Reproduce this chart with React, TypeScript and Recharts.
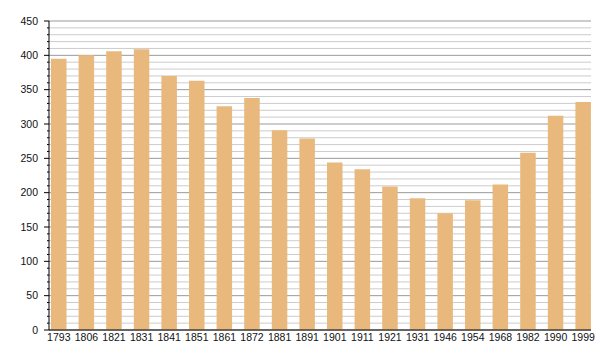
import { BarChart, Bar, XAxis, YAxis, CartesianGrid } from "recharts";

const years = [
  "1793", "1806", "1821", "1831", "1841", "1851", "1861", "1872", "1881", "1891",
  "1901", "1911", "1921", "1931", "1946", "1954", "1968", "1982", "1990", "1999",
];
const population = [
  395, 400, 406, 409, 370, 363, 326, 338, 291, 279,
  244, 234, 209, 192, 170, 189, 212, 258, 312, 332,
];
const labelTicks = [0, 50, 100, 150, 200, 250, 300, 350, 400, 450];
// every 10 gets a light grid line and a small tick
const yTicks = Array.from({ length: 46 }, (_, i) => i * 10);

const data = years.map((year, i) => ({ year, value: population[i] }));

const FONT = "'Liberation Sans', Arial, sans-serif";

// eslint-disable-next-line @typescript-eslint/no-explicit-any
function YTick(props: any) {
  const { x, y, payload } = props;
  const major = labelTicks.includes(payload.value);
  return (
    <g>
      <line x1={x - (major ? 5 : 2)} x2={x} y1={y} y2={y} stroke="#000" />
      {major && (
        <text
          x={x - 11}
          y={y}
          dy={3.7}
          textAnchor="end"
          fontSize={10.5}
          fontFamily={FONT}
          fill="#111"
        >
          {payload.value}
        </text>
      )}
    </g>
  );
}

// eslint-disable-next-line @typescript-eslint/no-explicit-any
function GridLine(props: any) {
  const { x1, x2, y1, y2, index } = props;
  const major = index % 5 === 0;
  return (
    <line
      x1={x1}
      x2={x2}
      y1={y1}
      y2={y2}
      stroke={major ? "#999" : "#cccccc"}
      strokeWidth={1}
    />
  );
}

export default function App() {
  return (
    <div style={{ position: "absolute", left: 0, top: 0, width: 600, height: 360 }}>
      <BarChart
        width={600}
        height={360}
        data={data}
        margin={{ top: 21, right: 9, left: 0, bottom: 0 }}
        barSize={15.5}
      >
        <CartesianGrid vertical={false} horizontal={GridLine} />
        <XAxis
          dataKey="year"
          height={30}
          interval={0}
          padding={{ left: -4, right: -6 }}
          tickLine={false}
          tickSize={0}
          tickMargin={4}
          axisLine={{ stroke: "#000" }}
          tick={{ fontSize: 10.5, fill: "#111", fontFamily: FONT }}
        />
        <YAxis
          width={49}
          domain={[0, 450]}
          ticks={yTicks}
          interval={0}
          tickLine={false}
          tickSize={0}
          tickMargin={0}
          axisLine={{ stroke: "#000" }}
          tick={YTick}
        />
        <Bar dataKey="value" fill="#e8b87d" isAnimationActive={false} />
      </BarChart>
    </div>
  );
}
